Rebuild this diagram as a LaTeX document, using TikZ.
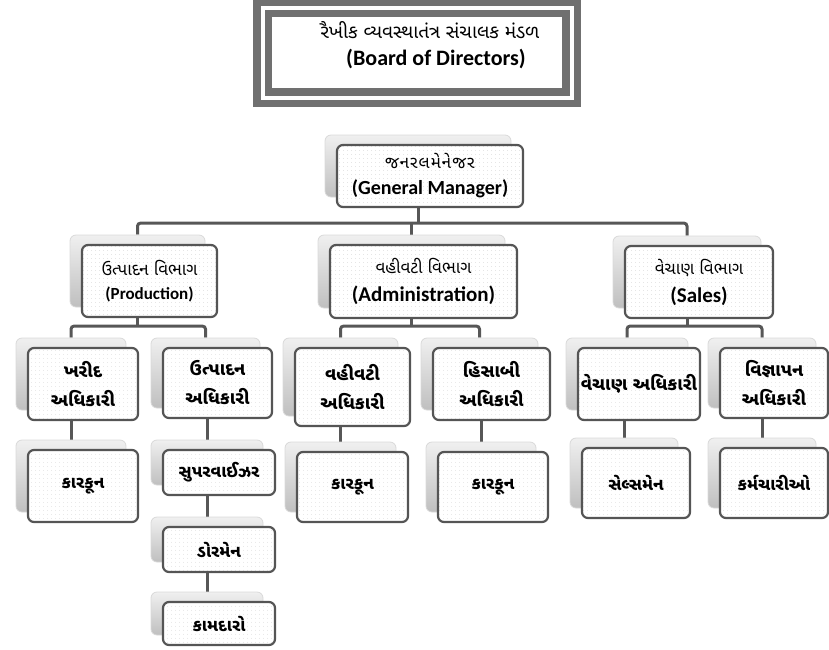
\documentclass[tikz,border=0pt]{standalone}
\usepackage{fontspec}
\setmainfont{Carlito}
\newfontfamily\guj[Script=Gujarati]{Noto Sans Gujarati UI}
\usetikzlibrary{patterns.meta}
\pgfdeclarelayer{bg}
\pgfsetlayers{bg,main}
\definecolor{linec}{HTML}{575757}
\definecolor{framec}{HTML}{707070}
\definecolor{borderc}{HTML}{555555}
\newcommand\G[1]{{\guj #1}}
\newcommand\GB[1]{{\guj\bfseries #1}}
\tikzset{
  front/.style={draw=borderc, line width=2.2pt, rounded corners=6pt,
    preaction={fill=white}, pattern={Dots[distance=4pt, radius=0.45pt]},
    pattern color=gray!40, align=center, inner sep=1pt, text=black},
  shadowbox/.style={draw=gray!30, line width=0.8pt, rounded corners=6pt,
    top color=gray!12, bottom color=gray!50},
  conn/.style={draw=linec, line width=3pt, rounded corners=3pt},
  lvthree/.style={font=\fontsize{18}{29}\selectfont},
  lvfour/.style={font=\fontsize{17}{28}\selectfont},
}
% name, x, y, width, height, text, extra style
\newcommand\orgunit[7]{%
  \node[shadowbox, minimum width=#4, minimum height=#5] (#1S) at (#2-12,#3-10) {};
  \node[front, minimum width=#4, minimum height=#5, #7] (#1) at (#2,#3) {#6};
}
\begin{document}
\begin{tikzpicture}[x=1pt, y=-1pt]
\useasboundingbox (0,0) rectangle (829,649);
% Board of directors
\node[draw=framec, line width=7.5pt, double=white, double distance=4pt,
  fill=white, minimum width=309, minimum height=90] (bod) at (417,52.5) {};
\node[align=center, inner sep=0pt] (bodtext) at (430,45)
  {\G{\fontsize{19}{24}\selectfont રૈખીક વ્યવસ્થાતંત્ર સંચાલક મંડળ}\\[9pt]
   \hspace*{12pt}{\fontsize{22}{24}\selectfont\bfseries (Board of Directors)}};
% units
\orgunit{gm}{430}{176}{186}{62}{\G{\fontsize{17}{20}\selectfont\addfontfeature{LetterSpace=6}જનરલમેનેજર}\\[10pt]{\fontsize{20}{20}\selectfont\bfseries (General Manager)}}{}
\orgunit{prod}{149.5}{281}{135}{72}{\G{\fontsize{17}{24}\selectfont ઉત્પાદન વિભાગ}\\{\fontsize{17}{24}\selectfont\bfseries (Production)}}{font=\fontsize{17}{24}\selectfont}
\orgunit{admin}{423.5}{281.5}{187}{73}{\G{\fontsize{17}{24}\selectfont વહીવટી વિભાગ}\\[2pt]{\fontsize{21}{24}\selectfont\bfseries (Administration)}}{font=\fontsize{21}{26}\selectfont}
\orgunit{sales}{699}{282}{148}{72}{\G{\fontsize{17}{24}\selectfont વેચાણ વિભાગ}\\[2pt]{\fontsize{21}{24}\selectfont\bfseries (Sales)}}{font=\fontsize{21}{26}\selectfont}
\orgunit{khar}{83}{384}{110}{72}{\GB{ખરીદ}\\\GB{અધિકારી}}{lvthree}
\orgunit{utad}{217.5}{383}{109}{70}{\GB{ઉત્પાદન}\\\GB{અધિકારી}}{lvthree}
\orgunit{vahad}{352.5}{387}{115}{78}{\GB{વહીવટી}\\\GB{અધિકારી}}{lvthree}
\orgunit{hisab}{491.5}{384}{117}{72}{\GB{હિસાબી}\\\GB{અધિકારી}}{lvthree}
\orgunit{vechad}{639}{384}{122}{72}{\GB{વેચાણ અધિકારી}}{lvthree}
\orgunit{vigy}{774}{383}{108}{70}{\GB{વિજ્ઞાપન}\\\GB{અધિકારી}}{lvthree}
\orgunit{karA}{83}{486}{110}{72}{\GB{કારકૂન}}{lvfour}
\orgunit{supv}{219}{472.5}{112}{45}{\GB{સુપરવાઈઝર}}{lvfour}
\orgunit{dorm}{219}{549.5}{112}{45}{\GB{ડોરમેન}}{lvfour}
\orgunit{kamd}{219}{623.5}{112}{43}{\GB{કામદારો}}{lvfour}
\orgunit{karB}{352.5}{487}{111}{70}{\GB{કારકૂન}}{lvfour}
\orgunit{karC}{493}{487}{110}{70}{\GB{કારકૂન}}{lvfour}
\orgunit{sale}{636}{483}{108}{70}{\GB{સેલ્સમેન}}{lvfour}
\orgunit{karm}{774}{483}{108}{70}{\GB{કર્મચારીઓ}}{lvfour}
% connectors
\begin{pgfonlayer}{bg}
\draw[conn] (gmS.south |- gm.south) -- ++(0,15) coordinate (bus);
\draw[conn] (prodS.north) |- (bus) -| (salesS.north);
\draw[conn] (adminS.north) -- (adminS.north |- bus);
\draw[conn] (prodS.south |- prod.south) -- ++(0,8) coordinate (pb);
\draw[conn] (kharS.north) |- (pb) -| (utadS.north);
\draw[conn] (adminS.south |- admin.south) -- ++(0,7) coordinate (ab);
\draw[conn] (vahadS.north) |- (ab) -| (hisabS.north);
\draw[conn] (salesS.south |- sales.south) -- ++(0,7) coordinate (sb);
\draw[conn] (vechadS.north) |- (sb) -| (vigyS.north);
\draw[conn] (karAS.north |- khar.south) -- (karAS.north);
\draw[conn] (supvS.north |- utad.south) -- (supvS.north);
\draw[conn] (dormS.north |- supv.south) -- (dormS.north);
\draw[conn] (kamdS.north |- dorm.south) -- (kamdS.north);
\draw[conn] (karBS.north |- vahad.south) -- (karBS.north);
\draw[conn] (karCS.north |- hisab.south) -- (karCS.north);
\draw[conn] (saleS.north |- vechad.south) -- (saleS.north);
\draw[conn] (karmS.north |- vigy.south) -- (karmS.north);
\end{pgfonlayer}
\end{tikzpicture}
\end{document}
